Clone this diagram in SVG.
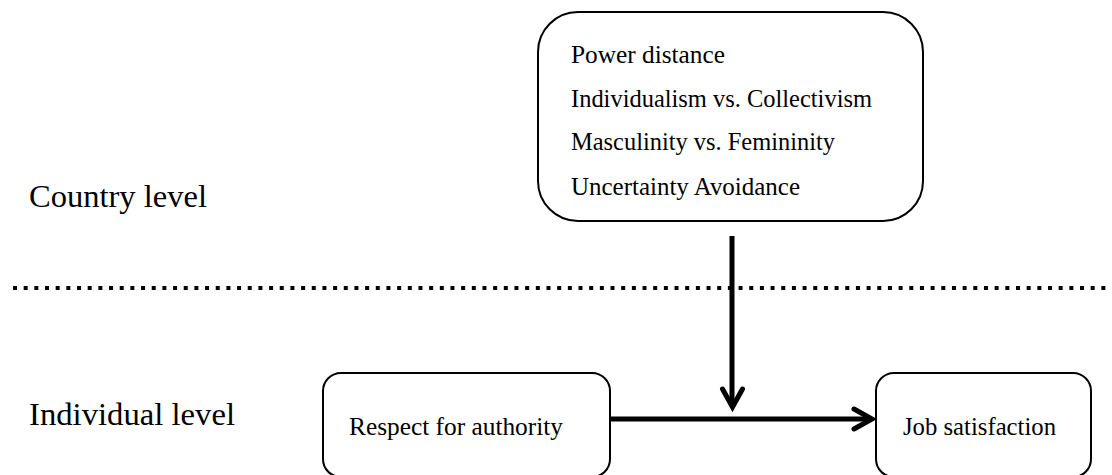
<svg xmlns="http://www.w3.org/2000/svg" width="1112" height="475" viewBox="0 0 1112 475">
<style>
.box{fill:#fff;stroke:#000;stroke-width:2}
.t{font-family:"Liberation Serif","DejaVu Serif",serif;font-size:25.5px;fill:#000}
.lbl{font-family:"Liberation Serif","DejaVu Serif",serif;font-size:32px;fill:#000}
.conn{fill:none;stroke:#000;stroke-width:5}
</style>
<rect width="1112" height="475" fill="#fff"/>
<g id="labels">
<text class="lbl" x="29" y="207" textLength="178" lengthAdjust="spacingAndGlyphs">Country level</text>
<text class="lbl" x="29" y="425" textLength="206" lengthAdjust="spacingAndGlyphs">Individual level</text>
</g>
<g id="divider">
<line x1="13" y1="288" x2="1106" y2="288" stroke="#000" stroke-width="4" stroke-dasharray="4 6.67"/>
</g>
<g id="culture">
<rect class="box" x="538" y="12" width="385" height="209" rx="40" ry="40"/>
<text class="t" x="571" y="63" textLength="154" lengthAdjust="spacingAndGlyphs">Power distance</text>
<text class="t" x="571" y="107" textLength="301" lengthAdjust="spacingAndGlyphs">Individualism vs. Collectivism</text>
<text class="t" x="571" y="150" textLength="264" lengthAdjust="spacingAndGlyphs">Masculinity vs. Femininity</text>
<text class="t" x="571" y="195" textLength="229" lengthAdjust="spacingAndGlyphs">Uncertainty Avoidance</text>
</g>
<g id="respect">
<rect class="box" x="323" y="373" width="287" height="104" rx="18" ry="18"/>
<text class="t" x="349" y="435" textLength="214" lengthAdjust="spacingAndGlyphs">Respect for authority</text>
</g>
<g id="job">
<rect class="box" x="876" y="373" width="215" height="104" rx="18" ry="18"/>
<text class="t" x="903" y="435" textLength="153" lengthAdjust="spacingAndGlyphs">Job satisfaction</text>
</g>
<g id="connectors">
<line class="conn" x1="732" y1="236" x2="732" y2="406"/>
<polyline class="conn" points="722.5,389 732.5,407 742.5,389" stroke-linejoin="miter" stroke-linecap="round"/>
<line class="conn" x1="611" y1="419" x2="871" y2="419"/>
<polyline class="conn" points="854,409 872,419 854,429" stroke-linejoin="miter" stroke-linecap="round"/>
</g>
</svg>
